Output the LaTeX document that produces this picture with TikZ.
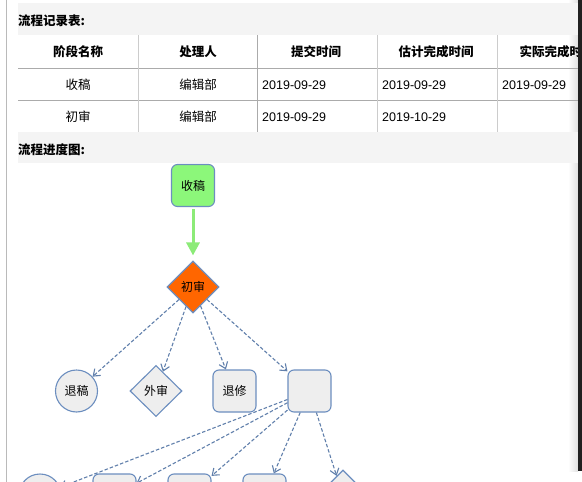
\documentclass[tikz,border=0pt]{standalone}
\usepackage{fontspec}
\setmainfont{Noto Sans CJK SC}
\newfontfamily\lat{Liberation Sans}
\usetikzlibrary{shapes.geometric,arrows.meta}
\definecolor{nodeblue}{HTML}{6C8EBF}
\definecolor{nodefill}{HTML}{EEEEEE}
\definecolor{bandgray}{HTML}{F4F4F4}
\definecolor{greenfill}{HTML}{8CF77A}
\definecolor{greenline}{HTML}{8CEB78}
\definecolor{orangefill}{HTML}{FF6600}
\tikzset{
  rbox/.style={draw=nodeblue, fill=nodefill, line width=1.1pt, rounded corners=6pt,
    minimum width=43pt, minimum height=42pt, inner sep=0pt, font=\fontsize{12}{14}\selectfont},
  cbox/.style={circle, draw=nodeblue, fill=nodefill, line width=1.1pt,
    minimum size=42pt, inner sep=0pt, font=\fontsize{12}{14}\selectfont},
  dbox/.style={diamond, draw=nodeblue, fill=nodefill, line width=1.1pt,
    minimum width=52pt, minimum height=51pt, inner sep=0pt, font=\fontsize{12}{14}\selectfont},
  flow/.style={draw=nodeblue!90!black, line width=1.1pt, dash pattern=on 3.5pt off 2pt,
    -{Straight Barb[length=6pt,width=9pt]}},
  head/.style={font=\fontsize{12.5}{14}\selectfont\bfseries, inner sep=0pt},
  cell/.style={font=\fontsize{12.5}{14}\selectfont, inner sep=0pt},
  date/.style={font=\fontsize{12.5}{14}\selectfont\lat, inner sep=0pt, anchor=west},
  band/.style={font=\fontsize{12.5}{14}\selectfont\bfseries, inner sep=0pt, anchor=west}
}
\begin{document}
\begin{tikzpicture}[x=1pt,y=-1pt]
\useasboundingbox (0,0) rectangle (582,482);
\clip (0,0) rectangle (582,482);
\fill[white] (0,0) rectangle (582,482);
% left border line
\draw[color=black!27, line width=1pt] (6.5,0) -- (6.5,482);
% scrollbar shadow and bar
\shade[left color=white, right color=black!12] (568,0) rectangle (578,471);
\begin{scope}
\clip (18,0) rectangle (578,482);
% bands
\fill[bandgray] (18,3) rectangle (578,35);
\fill[bandgray] (18,132) rectangle (578,163);
\node[band] (b1) at (18,21) {流程记录表:};
\node[band] (b2) at (18,150) {流程进度图:};
% table lines
\draw[color=black!33, line width=1.6pt] (18,68.5) -- (578,68.5);
\draw[color=black!33, line width=1.6pt] (18,100.5) -- (578,100.5);
\draw[color=black!20, line width=1pt] (138,35) -- (138,132);
\draw[color=black!33, line width=1.6pt] (257.5,35) -- (257.5,132);
\draw[color=black!20, line width=1pt] (377.5,35) -- (377.5,132);
\draw[color=black!20, line width=1pt] (497.5,35) -- (497.5,132);
% header
\node[head] (h1) at (78,52) {阶段名称};
\node[head] (h2) at (198,52) {处理人};
\node[head] (h3) at (316,52) {提交时间};
\node[head] (h4) at (436,52) {估计完成时间};
\node[head] (h5) at (557,52) {实际完成时间};
% row 1
\node[cell] (r11) at (78,85) {收稿};
\node[cell] (r12) at (198,85) {编辑部};
\node[date] (r13) at (262,85) {2019-09-29};
\node[date] (r14) at (382,85) {2019-09-29};
\node[date] (r15) at (502,85) {2019-09-29};
% row 2
\node[cell] (r21) at (78,117) {初审};
\node[cell] (r22) at (198,117) {编辑部};
\node[date] (r23) at (262,117) {2019-09-29};
\node[date] (r24) at (382,117) {2019-10-29};
\end{scope}
% flow chart
\node[rbox, fill=greenfill] (sg) at (193,185.5) {收稿};
\node[dbox, fill=orangefill, minimum height=52pt] (cs) at (193,287) {初审};
\node[cbox] (tg) at (76.5,391) {退稿};
\node[dbox] (ws) at (156,391) {外审};
\node[rbox] (tx) at (234.5,391) {退修};
\node[rbox] (ep) at (309.5,391) {};
\node[cbox] (c2) at (40,495) {};
\node[rbox] (q1) at (114.5,495) {};
\node[rbox] (q2) at (189.5,495) {};
\node[rbox] (q3) at (264.5,495) {};
\node[dbox, minimum height=52pt] (d2) at (343,496) {};
% green arrow
\draw[greenline, line width=3pt, -{Triangle[length=13pt,width=13pt]}, shorten <=2pt, shorten >=5pt] (sg) -- (cs);
% dashed arrows
\draw[flow] (cs) -- (tg);
\draw[flow] (cs) -- (ws);
\draw[flow] (cs) -- (tx);
\draw[flow] (cs) -- (ep);
\draw[flow] (ep) -- (c2);
\draw[flow] (ep) -- (q1);
\draw[flow] (ep) -- (q2);
\draw[flow] (ep) -- (q3);
\draw[flow] (ep) -- (d2);
% right scrollbar
\fill[black!87] (578,0) rectangle (582,471);
\end{tikzpicture}
\end{document}
